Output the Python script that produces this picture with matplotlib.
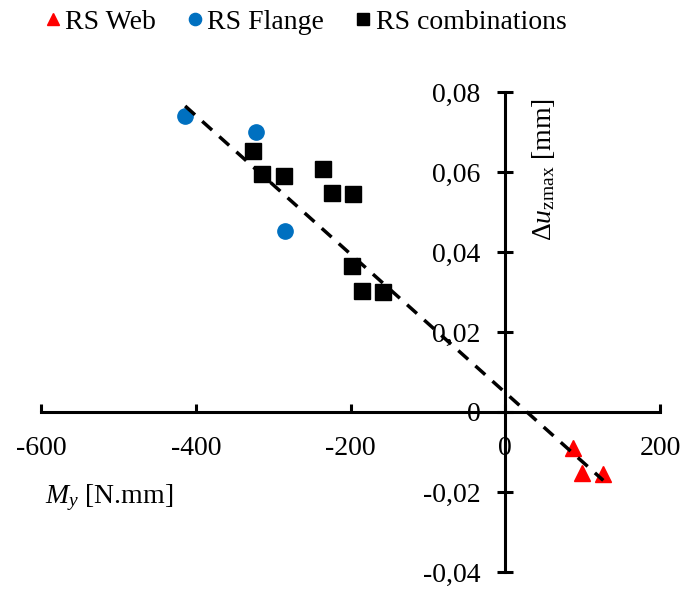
from matplotlib import pyplot as plt
from matplotlib.ticker import FuncFormatter

plt.rcParams['font.family'] = ['Liberation Serif', 'DejaVu Serif']
plt.rcParams['mathtext.fontset'] = 'custom'
plt.rcParams['mathtext.rm'] = 'Liberation Serif'
plt.rcParams['mathtext.it'] = 'Liberation Serif:italic'
plt.rcParams['axes.unicode_minus'] = False

# data
web_x = [87.9, 99.5, 126.7]
web_y = [-0.009, -0.0152, -0.0155]

flange_x = [-413.7, -322.0, -284.4]
flange_y = [0.074, 0.070, 0.0452]

comb_x = [-325.8, -314.2, -285.7, -235.3, -223.7, -196.5, -197.8, -184.9, -157.7]
comb_y = [0.0652, 0.0595, 0.059, 0.0608, 0.0548, 0.0545, 0.0365, 0.0302, 0.030]

# linear trend line as drawn in the chart
trend_x = [-413.7, 126.7]
trend_y = [0.0765, -0.0171]

fig = plt.figure(figsize=(6.83, 5.89), dpi=100)
ax = fig.add_axes([41/683, 1-572/589, (660-41)/683, (572-92)/589])

ax.plot(web_x, web_y, ls='none', marker='^', ms=11, color='#FF0000', label='RS Web')
ax.plot(flange_x, flange_y, ls='none', marker='o', ms=11, color='#0070C0', label='RS Flange')
ax.plot(comb_x, comb_y, ls='none', marker='s', ms=11, color='black', label='RS combinations')
ax.plot(trend_x, trend_y, color='black', lw=2.5, dashes=(3.8, 2.8), zorder=3)

ax.set_xlim(-600, 200)
ax.set_ylim(-0.04, 0.08)
ax.set_xticks([-600, -400, -200, 0, 200])
ax.set_yticks([-0.04, -0.02, 0, 0.02, 0.04, 0.06, 0.08])

def yfmt(v, pos):
    if abs(v) < 1e-9:
        return '0'
    return ('%.2f' % v).replace('.', ',')

ax.yaxis.set_major_formatter(FuncFormatter(yfmt))

for s in ['top', 'right']:
    ax.spines[s].set_visible(False)
ax.spines['left'].set_position(('data', 0))
ax.spines['bottom'].set_position(('data', 0))
for s in ['left', 'bottom']:
    ax.spines[s].set_linewidth(2.2)

ax.tick_params(axis='x', direction='in', length=6, width=2.2, pad=17, labelsize=20)
ax.tick_params(axis='y', direction='inout', length=12, width=2.2, pad=12, labelsize=20)

ax.text(0.0065, 0.155, r'$M_y$ [N.mm]', transform=ax.transAxes,
        ha='left', va='center', fontsize=20)
ax.text(0.8126, 0.9875, r'$\Delta\mathit{u}_{\mathrm{zmax}}$ [mm]', transform=ax.transAxes,
        ha='center', va='top', rotation=90, fontsize=20)

fig.legend(loc='center', bbox_to_anchor=(0.447, 1-22/589), ncol=3, frameon=False,
           fontsize=20, markerscale=0.8, handlelength=0.6, handletextpad=0.15,
           columnspacing=1.1, borderaxespad=0)

plt.savefig('out.png', dpi=100)
